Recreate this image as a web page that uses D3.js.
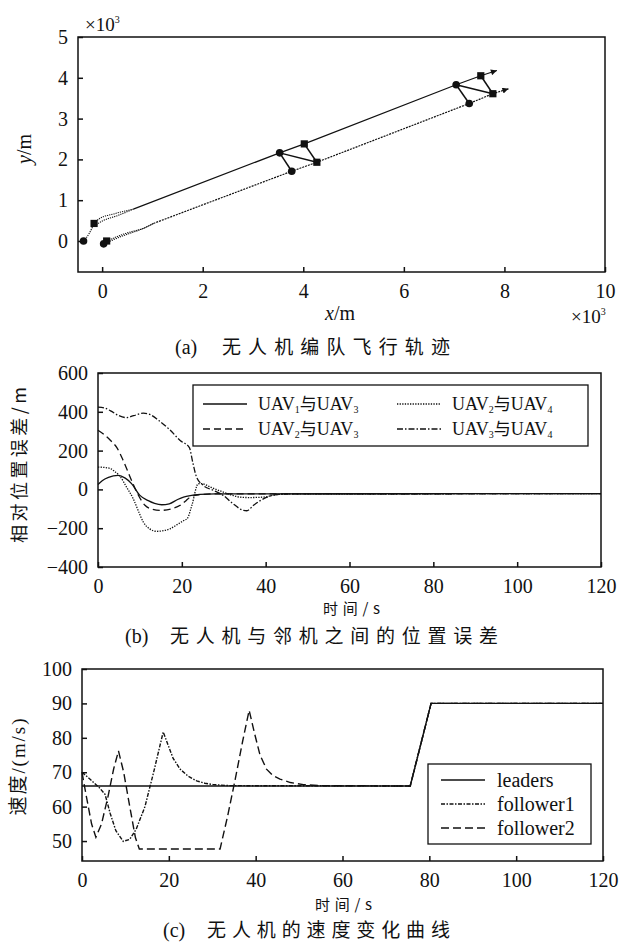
<!DOCTYPE html>
<html>
<head>
<meta charset="utf-8">
<script src="https://cdn.jsdelivr.net/npm/d3@7"></script>
<style>
  body { margin: 0; background: #fff; }
  svg text { fill: #111; }
</style>
</head>
<body>
<svg id="fig" width="621" height="944"></svg>
<script>
'use strict';

var SERIF = '"Liberation Serif", "Times New Roman", Times, serif';
var CJK = '"Noto Sans CJK SC", "Noto Sans CJK JP", sans-serif';

// ---- (a) trajectories, units of 10^3 m ----
var aXTicks = [0, 2, 4, 6, 8, 10];
var aYTicks = [0, 1, 2, 3, 4, 5];
var upperTrack = [[0.62, 0.78], [3.53, 2.16], [4.02, 2.38], [7.04, 3.83], [7.53, 4.05], [7.85, 4.18]];
var lowerTrack = [[1.02, 0.43], [3.77, 1.71], [4.27, 1.93], [7.30, 3.37], [7.77, 3.61], [8.08, 3.73]];
var upperStart = [
  [[-0.37, 0.00], [-0.26, 0.18], [-0.16, 0.43]],
  [[-0.16, 0.43], [-0.05, 0.55], [0.25, 0.67], [0.62, 0.78]],
  [[-0.12, 0.40], [0.02, 0.50], [0.30, 0.62], [0.62, 0.78]]
];
var lowerStart = [
  [[0.03, -0.07], [0.40, 0.12], [0.80, 0.30], [1.02, 0.43]],
  [[0.09, 0.00], [0.45, 0.18], [0.90, 0.35], [1.02, 0.43]]
];
var uavCircles = [[-0.37, 0.00], [0.03, -0.07], [3.53, 2.16], [3.77, 1.71], [7.04, 3.83], [7.30, 3.37]];
var uavSquares = [[-0.16, 0.43], [0.09, 0.00], [4.02, 2.38], [4.27, 1.93], [7.53, 4.05], [7.77, 3.61]];
var formationLinks = [
  [[3.53, 2.16], [4.27, 1.93]], [[3.53, 2.16], [3.77, 1.71]], [[4.02, 2.38], [4.27, 1.93]],
  [[7.04, 3.83], [7.77, 3.61]], [[7.04, 3.83], [7.30, 3.37]], [[7.53, 4.05], [7.77, 3.61]]
];

// ---- (b) relative position error, [t (s), m] ----
var bXTicks = [0, 20, 40, 60, 80, 100, 120];
var bYTicks = [-400, -200, 0, 200, 400, 600];
var err13 = [[0, 25], [1, 45], [2.5, 62], [4.8, 72], [6.5, 58], [8, 30], [10, -31], [12, -58], [13.5, -72],
  [15.2, -79], [17, -74], [19, -52], [20.4, -40], [22, -32], [24.4, -26], [28, -23], [120, -22]];
var err23 = [[0, 305], [1.5, 282], [3, 252], [4.5, 215], [6, 150], [8, 46], [9.5, -25], [11.2, -82], [13, -102],
  [15.2, -108], [17.5, -100], [19.6, -82], [21, -58], [22, -40], [24, -28], [28, -23], [120, -22]];
var err24 = [[0, 115], [1.5, 113], [2.9, 108], [4, 92], [5.2, 69], [6.8, 12], [8.4, -48], [9.6, -110],
  [10.8, -168], [12.3, -203], [14, -216], [15.6, -213], [17.2, -203], [19, -180], [20.5, -160], [21.3, -150],
  [22.4, -82], [23.9, 29], [24.7, 30], [27, 10], [29.9, -14], [32, -30], [33.9, -40], [36, -42], [39.4, -40],
  [42.6, -27], [46, -23], [120, -22]];
var err34 = [[0, 424], [1.5, 420], [3, 405], [5, 380], [6.8, 370], [8.5, 380], [10.8, 393], [12.5, 385],
  [14.5, 355], [17, 310], [19.6, 252], [21.8, 215], [22.6, 140], [23.5, 64], [25.1, 21], [27.5, -5],
  [29.9, -31], [32, -70], [34.7, -108], [35.5, -110], [37.1, -82], [38.7, -58], [40.3, -40], [42.6, -27],
  [46, -23], [120, -22]];
var bSeries = [
  { pair: ['1', '3'], data: err13, dash: null },
  { pair: ['2', '3'], data: err23, dash: '7,4' },
  { pair: ['2', '4'], data: err24, dash: '1.3,1.3' },
  { pair: ['3', '4'], data: err34, dash: '6,2,1.5,2' }
];

// ---- (c) speed, [t (s), m/s] ----
var cXTicks = [0, 20, 40, 60, 80, 100, 120];
var cYTicks = [50, 60, 70, 80, 90, 100];
var leaders = [[0, 66], [75.6, 66], [80.4, 90], [120, 90]];
var follower1 = [[0, 70], [2, 67.8], [4, 65.5], [5.3, 63.6], [6.5, 58], [7.8, 53], [9.5, 49.9], [11, 50.5],
  [12.5, 53.5], [14.5, 60], [16.5, 70], [18.7, 81.7], [19.8, 78], [21, 74], [22.6, 70.9], [24.5, 68.8],
  [26.4, 67.5], [28.3, 66.8], [30.2, 66.4], [34, 66.1], [75.6, 66], [80.4, 90], [120, 90]];
var follower2 = [[0, 70], [1, 63], [2.2, 55], [3.2, 51.1], [4.5, 55], [6, 63], [7.3, 71], [8.4, 76.2],
  [9.6, 70], [11, 60], [12.3, 51], [13.2, 47.7], [31.8, 47.7], [33.5, 57], [35.3, 68], [37, 79], [38.5, 88],
  [39.8, 81], [41, 75], [42.5, 70.9], [44, 69], [45.6, 68], [48, 67], [51, 66.4], [55, 66.1], [75.6, 66],
  [80.4, 90], [120, 90]];
var cSeries = [
  { name: 'leaders', data: leaders, dash: null },
  { name: 'follower1', data: follower1, dash: '4,1.5,1.5,1.5' },
  { name: 'follower2', data: follower2, dash: '8,4' }
];

var svg = d3.select('#fig').style('font-family', SERIF);

svg.append('defs').append('marker')
  .attr('id', 'arrow')
  .attr('viewBox', '0 0 10 10')
  .attr('refX', 10).attr('refY', 5)
  .attr('markerUnits', 'userSpaceOnUse')
  .attr('markerWidth', 8).attr('markerHeight', 6)
  .attr('orient', 'auto')
  .append('path')
  .attr('d', 'M0,0 L10,5 L0,10 z')
  .attr('fill', '#111');

function serifText(sel) { return sel.style('font-family', SERIF); }
function cjkText(sel) { return sel.style('font-family', CJK); }

// frame + inward ticks on bottom/left
function panel(box, xDom, yDom, xTicks, yTicks) {
  var x = d3.scaleLinear().domain(xDom).range([box.left, box.right]);
  var y = d3.scaleLinear().domain(yDom).range([box.bottom, box.top]);
  var g = svg.append('g');
  var fmt = d3.format('d');

  g.append('g')
    .attr('class', 'axis')
    .attr('transform', 'translate(0,' + box.bottom + ')')
    .call(d3.axisBottom(x).tickValues(xTicks).tickSize(-5).tickPadding(12).tickFormat(fmt));

  g.append('g')
    .attr('class', 'axis')
    .attr('transform', 'translate(' + box.left + ',0)')
    .call(d3.axisLeft(y).tickValues(yTicks).tickSize(-5).tickPadding(10)
      .tickFormat(function (d) { return fmt(d).replace('-', '\u2212'); }));

  g.selectAll('.axis').attr('font-family', null).attr('font-size', null);
  g.selectAll('.axis text').style('font-family', SERIF).style('font-size', '20px');
  g.selectAll('.axis .domain').remove();
  g.selectAll('.axis line').attr('stroke', '#111').attr('stroke-width', 1.5);

  g.append('rect')
    .attr('x', box.left).attr('y', box.top)
    .attr('width', box.right - box.left).attr('height', box.bottom - box.top)
    .attr('fill', 'none').attr('stroke', '#111').attr('stroke-width', 1.5);

  return { g: g, x: x, y: y };
}

function caption(tag, text, x, cx, len, baseline) {
  serifText(svg.append('text')).attr('x', x).attr('y', baseline).style('font-size', '20px').text(tag);
  cjkText(svg.append('text'))
    .attr('x', cx).attr('y', baseline)
    .style('font-size', '19px')
    .attr('textLength', len).attr('lengthAdjust', 'spacing')
    .text(text);
}

function times10(x, y) {
  var t = serifText(svg.append('text')).attr('x', x).attr('y', y).style('font-size', '19px');
  t.append('tspan').text('×10');
  t.append('tspan').style('font-size', '10px').attr('dy', -8).text('3');
}

// ===================== (a) =====================
var A = panel({ left: 78, right: 605, top: 37, bottom: 272 }, [-0.48, 10], [-0.76, 5], aXTicks, aYTicks);
var lineA = d3.line().x(function (d) { return A.x(d[0]); }).y(function (d) { return A.y(d[1]); });
var smoothA = d3.line().curve(d3.curveMonotoneX)
  .x(function (d) { return A.x(d[0]); }).y(function (d) { return A.y(d[1]); });

A.g.append('path').attr('d', lineA(upperTrack))
  .attr('fill', 'none').attr('stroke', '#111').attr('stroke-width', 1.2)
  .attr('marker-end', 'url(#arrow)');
A.g.append('path').attr('d', lineA(lowerTrack))
  .attr('fill', 'none').attr('stroke', '#111').attr('stroke-width', 1.2)
  .attr('stroke-dasharray', '2,1')
  .attr('marker-end', 'url(#arrow)');

upperStart.concat(lowerStart).forEach(function (seg) {
  A.g.append('path').attr('d', smoothA(seg))
    .attr('fill', 'none').attr('stroke', '#111').attr('stroke-width', 1.1)
    .attr('stroke-dasharray', '1.2,1');
});

A.g.selectAll('.link').data(formationLinks).enter().append('path')
  .attr('class', 'link')
  .attr('d', function (d) { return lineA(d); })
  .attr('stroke', '#111').attr('stroke-width', 1.5);

A.g.selectAll('.uavc').data(uavCircles).enter().append('circle')
  .attr('class', 'uavc')
  .attr('cx', function (d) { return A.x(d[0]); })
  .attr('cy', function (d) { return A.y(d[1]); })
  .attr('r', 3.8).attr('fill', '#111');

A.g.selectAll('.uavs').data(uavSquares).enter().append('rect')
  .attr('class', 'uavs')
  .attr('x', function (d) { return A.x(d[0]) - 3.6; })
  .attr('y', function (d) { return A.y(d[1]) - 3.6; })
  .attr('width', 7.2).attr('height', 7.2).attr('fill', '#111');

var yLab = serifText(svg.append('text')).attr('transform', 'translate(31,149) rotate(-90)')
  .attr('text-anchor', 'middle').style('font-size', '20px');
yLab.append('tspan').attr('font-style', 'italic').text('y');
yLab.append('tspan').text('/m');
var xLab = serifText(svg.append('text')).attr('x', 325).attr('y', 320).style('font-size', '20px');
xLab.append('tspan').attr('font-style', 'italic').text('x');
xLab.append('tspan').text('/m');
times10(85, 31);
times10(571, 323);
caption('(a)', '无人机编队飞行轨迹', 175, 222, 228, 354);

// ===================== (b) =====================
var B = panel({ left: 98, right: 601, top: 373, bottom: 567 }, [0, 120], [-400, 600], bXTicks, bYTicks);
var lineB = d3.line().curve(d3.curveMonotoneX)
  .x(function (d) { return B.x(d[0]); }).y(function (d) { return B.y(d[1]); });

bSeries.forEach(function (s) {
  B.g.append('path').attr('d', lineB(s.data))
    .attr('fill', 'none').attr('stroke', '#111').attr('stroke-width', 1.3)
    .attr('stroke-dasharray', s.dash);
});

var legB = B.g.append('g');
legB.append('rect').attr('x', 193).attr('y', 385).attr('width', 395).attr('height', 61)
  .attr('fill', '#fff').attr('stroke', '#111').attr('stroke-width', 1.3);
var legBSlots = [[203, 404], [203, 429], [397, 404], [397, 429]];
bSeries.forEach(function (s, i) {
  var p = legBSlots[i];
  legB.append('line').attr('x1', p[0]).attr('x2', p[0] + 44).attr('y1', p[1]).attr('y2', p[1])
    .attr('stroke', '#111').attr('stroke-width', 1.3).attr('stroke-dasharray', s.dash);
  var t = serifText(legB.append('text')).attr('x', p[0] + 55).attr('y', p[1] + 6).style('font-size', '18px');
  t.append('tspan').text('UAV');
  t.append('tspan').style('font-size', '10px').attr('dy', 3).text(s.pair[0]);
  cjkText(t.append('tspan')).style('font-size', '17px').attr('dy', -3).text('与');
  t.append('tspan').text('UAV');
  t.append('tspan').style('font-size', '10px').attr('dy', 3).text(s.pair[1]);
});

cjkText(svg.append('text'))
  .attr('transform', 'translate(26,465) rotate(-90)')
  .attr('text-anchor', 'middle').style('font-size', '18px')
  .attr('textLength', 156).attr('lengthAdjust', 'spacing')
  .text('相对位置误差/m');
cjkText(svg.append('text'))
  .attr('x', 323).attr('y', 614).style('font-size', '15px')
  .attr('textLength', 57).attr('lengthAdjust', 'spacing')
  .text('时间/s');
caption('(b)', '无人机与邻机之间的位置误差', 125, 170, 328, 643);

// ===================== (c) =====================
var C = panel({ left: 82, right: 603, top: 669, bottom: 861 }, [0, 120], [44.2, 100], cXTicks, cYTicks);
var lineC = d3.line()
  .x(function (d) { return C.x(d[0]); }).y(function (d) { return C.y(d[1]); });

cSeries.slice().reverse().forEach(function (s) {
  C.g.append('path').attr('d', lineC(s.data))
    .attr('fill', 'none').attr('stroke', '#111').attr('stroke-width', 1.4)
    .attr('stroke-dasharray', s.dash);
});

var legC = C.g.append('g');
legC.append('rect').attr('x', 428).attr('y', 764).attr('width', 163).attr('height', 80)
  .attr('fill', '#fff').attr('stroke', '#111').attr('stroke-width', 1.3);
cSeries.forEach(function (s, i) {
  var ly = 780 + i * 24;
  legC.append('line').attr('x1', 441).attr('x2', 485).attr('y1', ly).attr('y2', ly)
    .attr('stroke', '#111').attr('stroke-width', 1.4).attr('stroke-dasharray', s.dash);
  serifText(legC.append('text')).attr('x', 497).attr('y', ly + 7).style('font-size', '20px').text(s.name);
});

var cyLab = svg.append('text')
  .attr('transform', 'translate(25,767) rotate(-90)')
  .attr('text-anchor', 'middle').style('font-size', '19px')
  .attr('textLength', 97).attr('lengthAdjust', 'spacing');
cjkText(cyLab.append('tspan')).text('速度');
serifText(cyLab.append('tspan')).text('/(m/s)');
cjkText(svg.append('text'))
  .attr('x', 315).attr('y', 910).style('font-size', '15px')
  .attr('textLength', 57).attr('lengthAdjust', 'spacing')
  .text('时间/s');
caption('(c)', '无人机的速度变化曲线', 163, 207, 243, 937);
</script>
</body>
</html>
